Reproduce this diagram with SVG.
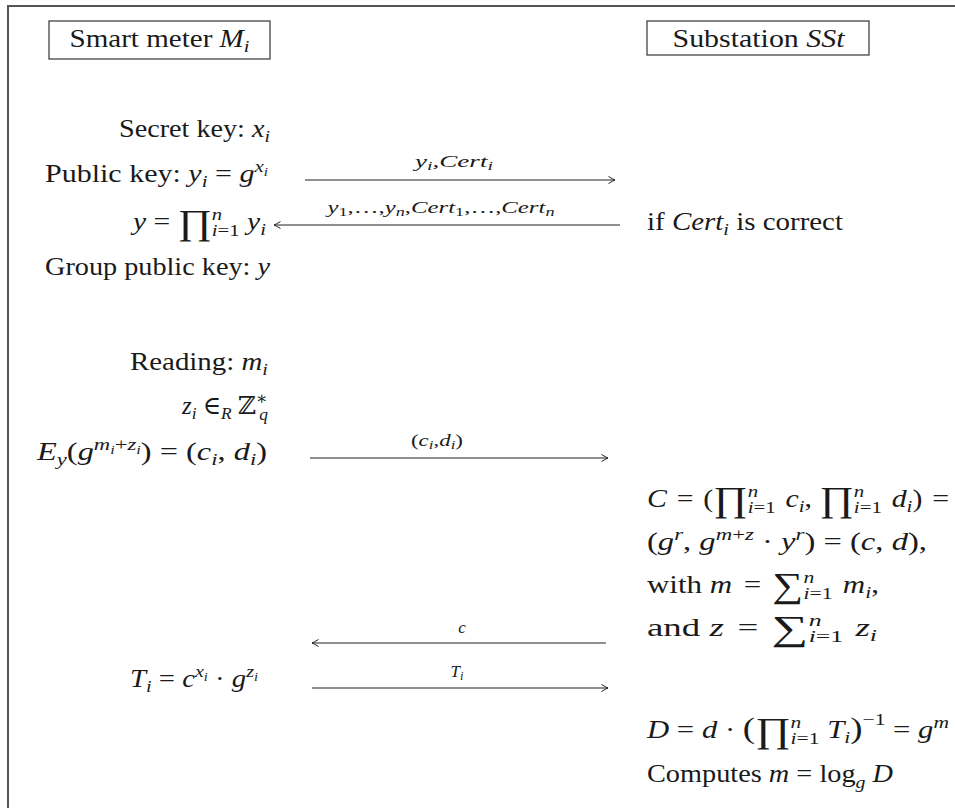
<svg xmlns="http://www.w3.org/2000/svg" width="955" height="808" viewBox="0 0 955 808">
<defs>
<style>
.t{font-family:"Liberation Serif","DejaVu Serif",serif;font-size:25px;fill:#1a1a1a}
.lbl{font-family:"Liberation Serif","DejaVu Serif",serif;font-size:17px;font-style:italic;fill:#1a1a1a;text-anchor:middle}
.e{text-anchor:end}
.m{font-style:italic}
.u{font-style:normal}
.s{font-size:17.5px}
.ss{font-size:12.5px}
.op{font-size:35px}
.big{font-size:30px}
.box{fill:#fff;stroke:#444;stroke-width:1.3}
.arr{stroke:#222;stroke-width:1.2;fill:none;marker-end:url(#ah)}
.frame{fill:none;stroke:#555;stroke-width:2}
</style>
<marker id="ah" viewBox="-8 -5 10 10" refX="0" refY="0" markerWidth="10" markerHeight="10" orient="auto" markerUnits="userSpaceOnUse">
<path d="M-6.5,-3.5 Q-2,-0.8 0,0 Q-2,0.8 -6.5,3.5" fill="none" stroke="#222" stroke-width="1"/>
</marker>
</defs>
<rect width="955" height="808" fill="#fff"/>
<path class="frame" d="M8,808 V6 H955"/>

<g id="meter">
<rect class="box" x="49" y="21" width="221" height="38"/>
<text class="t" x="159.5" y="47" text-anchor="middle" textLength="180" lengthAdjust="spacingAndGlyphs">Smart meter <tspan class="m">M</tspan><tspan class="s m" dy="5">i</tspan></text>
</g>
<g id="substation">
<rect class="box" x="647" y="21" width="222" height="34"/>
<text class="t" x="758.5" y="47" text-anchor="middle" textLength="172" lengthAdjust="spacingAndGlyphs">Substation <tspan class="m">SSt</tspan></text>
</g>

<g id="secret-key"><text class="t e" x="270" y="137" textLength="151" lengthAdjust="spacingAndGlyphs">Secret key: <tspan class="m">x</tspan><tspan class="s m" dy="5">i</tspan></text></g>
<g id="public-key"><text class="t e" x="268" y="182" textLength="223" lengthAdjust="spacingAndGlyphs">Public key: <tspan class="m">y</tspan><tspan class="s m" dy="5">i</tspan><tspan dy="-5"> = </tspan><tspan class="m">g</tspan><tspan class="s m" dy="-10">x</tspan><tspan class="ss m" dy="3.5">i</tspan></text></g>
<g id="group-product"><text class="t e" x="266" y="230" textLength="133" lengthAdjust="spacingAndGlyphs"><tspan class="m">y</tspan> = <tspan class="op" dy="4">∏</tspan><tspan class="s m" dy="-14">n</tspan><tspan class="s" dx="-8.75" dy="16"><tspan class="m">i</tspan>=1</tspan><tspan class="m" dy="-6"> y</tspan><tspan class="s m" dy="5">i</tspan></text></g>
<g id="group-key"><text class="t e" x="270" y="275" textLength="225" lengthAdjust="spacingAndGlyphs">Group public key: <tspan class="m">y</tspan></text></g>
<g id="reading"><text class="t e" x="268" y="370" textLength="138" lengthAdjust="spacingAndGlyphs">Reading: <tspan class="m">m</tspan><tspan class="s m" dy="5">i</tspan></text></g>
<g id="random"><text class="t e" x="268" y="414" textLength="86" lengthAdjust="spacingAndGlyphs"><tspan class="m">z</tspan><tspan class="s m" dy="5">i</tspan><tspan dy="-5"> ∈</tspan><tspan class="s m" dy="5">R</tspan><tspan dy="-5"> ℤ</tspan><tspan class="s" dy="-10">∗</tspan><tspan class="s m" dx="-8.5" dy="16">q</tspan></text></g>
<g id="encrypt"><text class="t e" x="267" y="460" textLength="230" lengthAdjust="spacingAndGlyphs"><tspan class="m">E</tspan><tspan class="s m" dy="5">y</tspan><tspan dy="-5">(</tspan><tspan class="m">g</tspan><tspan class="s m" dy="-10">m</tspan><tspan class="ss m" dy="3.5">i</tspan><tspan class="s" dy="-3.5">+<tspan class="m">z</tspan></tspan><tspan class="ss m" dy="3.5">i</tspan><tspan dy="6.5">) = (</tspan><tspan class="m">c</tspan><tspan class="s m" dy="5">i</tspan><tspan dy="-5">, </tspan><tspan class="m">d</tspan><tspan class="s m" dy="5">i</tspan><tspan dy="-5">)</tspan></text></g>
<g id="share"><text class="t e" x="258" y="687" textLength="128" lengthAdjust="spacingAndGlyphs"><tspan class="m">T</tspan><tspan class="s m" dy="5">i</tspan><tspan dy="-5"> = </tspan><tspan class="m">c</tspan><tspan class="s m" dy="-10">x</tspan><tspan class="ss m" dy="3.5">i</tspan><tspan dy="6.5"> · </tspan><tspan class="m">g</tspan><tspan class="s m" dy="-10">z</tspan><tspan class="ss m" dy="3.5">i</tspan></text></g>

<g id="cert-check"><text class="t" x="647" y="230" textLength="196" lengthAdjust="spacingAndGlyphs">if <tspan class="m">Cert</tspan><tspan class="s m" dy="5">i</tspan><tspan dy="-5"> is correct</tspan></text></g>
<g id="aggregate">
<text class="t" x="647" y="507" textLength="302" lengthAdjust="spacingAndGlyphs"><tspan class="m">C</tspan><tspan dx="2"> = </tspan><tspan dx="2">(</tspan><tspan class="op" dy="4">∏</tspan><tspan class="s m" dy="-14">n</tspan><tspan class="s" dx="-8.75" dy="16"><tspan class="m">i</tspan>=1</tspan><tspan class="m" dx="2" dy="-6"> c</tspan><tspan class="s m" dy="5">i</tspan><tspan dy="-5">, </tspan><tspan class="op" dy="4">∏</tspan><tspan class="s m" dy="-14">n</tspan><tspan class="s" dx="-8.75" dy="16"><tspan class="m">i</tspan>=1</tspan><tspan class="m" dx="2" dy="-6"> d</tspan><tspan class="s m" dy="5">i</tspan><tspan dy="-5">) </tspan><tspan dx="2">=</tspan></text>
<text class="t" x="647" y="550" textLength="280" lengthAdjust="spacingAndGlyphs">(<tspan class="m">g</tspan><tspan class="s m" dy="-10">r</tspan><tspan dy="10">, </tspan><tspan class="m">g</tspan><tspan class="s" dy="-10"><tspan class="m">m</tspan>+<tspan class="m">z</tspan></tspan><tspan dy="10"> · </tspan><tspan class="m">y</tspan><tspan class="s m" dy="-10">r</tspan><tspan dy="10">) = (</tspan><tspan class="m">c</tspan>, <tspan class="m">d</tspan>),</text>
<text class="t" x="647" y="593" textLength="232" lengthAdjust="spacingAndGlyphs">with <tspan class="m">m</tspan><tspan dx="3"> = </tspan><tspan class="op" dx="3" dy="4">∑</tspan><tspan class="s m" dy="-14">n</tspan><tspan class="s" dx="-8.75" dy="16"><tspan class="m">i</tspan>=1</tspan><tspan class="m" dx="2" dy="-6"> m</tspan><tspan class="s m" dy="5">i</tspan><tspan dy="-5">,</tspan></text>
<text class="t" x="647" y="636" textLength="230" lengthAdjust="spacingAndGlyphs">and <tspan class="m">z</tspan><tspan dx="3"> = </tspan><tspan class="op" dx="3" dy="4">∑</tspan><tspan class="s m" dy="-14">n</tspan><tspan class="s" dx="-8.75" dy="16"><tspan class="m">i</tspan>=1</tspan><tspan class="m" dx="2" dy="-6"> z</tspan><tspan class="s m" dy="5">i</tspan></text>
</g>
<g id="decrypt">
<text class="t" x="647" y="738" textLength="302" lengthAdjust="spacingAndGlyphs"><tspan class="m">D</tspan> = <tspan class="m">d</tspan> · <tspan class="big">(</tspan><tspan class="op" dy="4">∏</tspan><tspan class="s m" dy="-14">n</tspan><tspan class="s" dx="-8.75" dy="16"><tspan class="m">i</tspan>=1</tspan><tspan class="m" dy="-6"> T</tspan><tspan class="s m" dy="5">i</tspan><tspan class="big" dy="-5">)</tspan><tspan class="s" dy="-13">−1</tspan><tspan dy="13"> = </tspan><tspan class="m">g</tspan><tspan class="s m" dy="-10">m</tspan></text>
<text class="t" x="647" y="782" textLength="246" lengthAdjust="spacingAndGlyphs">Computes <tspan class="m">m</tspan> = log<tspan class="s m" dy="6">g</tspan><tspan class="m" dy="-6"> D</tspan></text>
</g>

<g id="connectors">
<line class="arr" x1="305" y1="180" x2="615" y2="180"/>
<text class="lbl" x="454" y="167" textLength="78" lengthAdjust="spacingAndGlyphs">y<tspan class="ss" dy="3">i</tspan><tspan dy="-3">,Cert</tspan><tspan class="ss" dy="3">i</tspan></text>
<line class="arr" x1="620" y1="225" x2="274" y2="225"/>
<text class="lbl" x="441" y="213" textLength="227" lengthAdjust="spacingAndGlyphs">y<tspan class="ss u" dy="3">1</tspan><tspan class="u" dy="-3">,…,</tspan>y<tspan class="ss" dy="3">n</tspan><tspan class="u" dy="-3">,</tspan>Cert<tspan class="ss u" dy="3">1</tspan><tspan class="u" dy="-3">,…,</tspan>Cert<tspan class="ss" dy="3">n</tspan></text>
<line class="arr" x1="310" y1="458" x2="608" y2="458"/>
<text class="lbl" x="437" y="446" textLength="52" lengthAdjust="spacingAndGlyphs"><tspan class="u">(</tspan>c<tspan class="ss" dy="3">i</tspan><tspan class="u" dy="-3">,</tspan>d<tspan class="ss" dy="3">i</tspan><tspan class="u" dy="-3">)</tspan></text>
<line class="arr" x1="606" y1="643" x2="312" y2="643"/>
<text class="lbl" x="462" y="633">c</text>
<line class="arr" x1="312" y1="688" x2="608" y2="688"/>
<text class="lbl" x="457" y="677">T<tspan class="ss" dy="3">i</tspan></text>
</g>
</svg>
